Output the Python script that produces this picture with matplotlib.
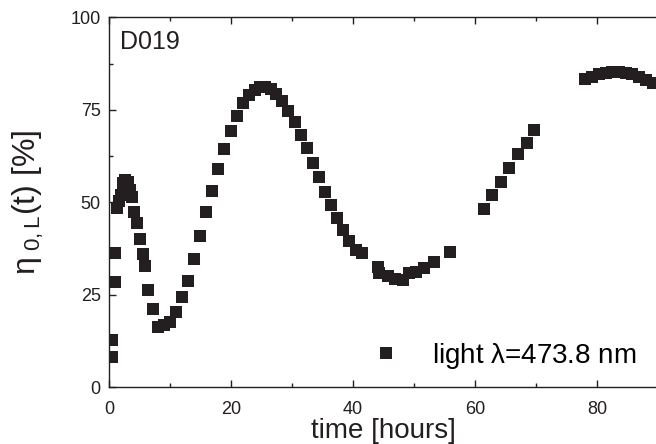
#!/usr/bin/env python

import matplotlib
matplotlib.use('Agg')
import matplotlib.pyplot as plt
from matplotlib.ticker import MultipleLocator

## data
time = [0.5, 0.5, 0.9, 1.0, 1.3, 1.6, 1.9, 2.3, 2.7, 3.1, 3.5, 3.8, 4.15, 4.6,
        5.0, 5.5, 5.95, 6.45, 7.25, 8.1, 9.05, 10.0, 11.0, 12.0, 12.95, 14.0,
        14.95, 15.95, 16.95, 17.9, 18.9, 19.95, 20.95, 21.9, 23.0, 23.9, 24.75,
        25.6, 26.5, 27.4, 28.3, 29.4, 30.45, 31.45, 32.4, 33.5, 34.45, 35.4,
        36.4, 37.45, 38.4, 39.4, 40.45, 41.45, 44.1, 44.3, 45.8, 46.9, 48.2,
        49.1, 50.3, 51.6, 53.2, 55.9, 61.5, 62.8, 64.2, 65.6, 67.0, 68.5, 69.6,
        78.0, 79.2, 80.3, 81.4, 82.5, 83.6, 84.7, 85.8, 86.9, 88.0, 89.1]
eta = [8.2, 12.7, 28.6, 36.3, 48.5, 50.5, 52.0, 55.3, 56.0, 55.5, 53.5, 51.5,
       47.5, 44.4, 40.0, 36.1, 32.9, 26.4, 21.1, 16.3, 16.9, 17.6, 20.3, 24.4,
       28.8, 34.7, 41.0, 47.3, 53.2, 59.0, 64.4, 69.4, 73.4, 76.8, 79.1, 80.4,
       81.2, 81.3, 80.6, 79.4, 77.3, 74.8, 71.7, 68.3, 64.7, 60.8, 56.8, 52.9,
       49.4, 45.9, 42.6, 39.6, 37.2, 36.3, 32.5, 30.9, 30.0, 29.2, 29.0, 31.0,
       31.3, 32.2, 34.0, 36.5, 48.2, 51.9, 55.6, 59.4, 63.1, 66.2, 69.6, 83.3,
       84.0, 84.6, 85.0, 85.3, 85.3, 85.0, 84.6, 84.0, 83.2, 82.2]
sample = "D019"
series_label = r"light $\mathregular{\lambda}$=473.8 nm"

plt.rcParams['font.family'] = ['Liberation Sans', 'DejaVu Sans']
plt.rcParams['mathtext.fontset'] = 'custom'
plt.rcParams['mathtext.rm'] = 'Liberation Sans'
plt.rcParams['mathtext.it'] = 'Liberation Sans:italic'

ink = '#231f20'

fig = plt.figure(figsize=(6.56, 4.44), dpi=100)
ax = fig.add_axes([0.1662, 0.1273, 0.8369, 0.8333])

ax.plot(time, eta, 's', color=ink, markersize=8, markeredgewidth=0,
        label=series_label)

ax.set_xlim([0, 90])
ax.set_ylim([0, 100])
ax.xaxis.set_major_locator(MultipleLocator(20))
ax.xaxis.set_minor_locator(MultipleLocator(10))
ax.yaxis.set_major_locator(MultipleLocator(25))
ax.yaxis.set_minor_locator(MultipleLocator(12.5))
ax.tick_params(which='both', direction='in', top=True, right=False,
               color=ink, width=1.0)
ax.tick_params(which='major', length=5, labelsize=13, labelcolor=ink)
ax.tick_params(which='minor', length=3)
ax.tick_params(axis='x', which='major', pad=10)
ax.tick_params(axis='y', which='major', pad=6)
for s in ax.spines.values():
    s.set_linewidth(1.0)
    s.set_color(ink)

ax.set_xlabel("time [hours]", fontsize=20, color=ink, labelpad=0)
ax.set_ylabel(r"$\mathregular{\eta_{\ 0,L}(t)}$ [%]", fontsize=23, color=ink)
ax.yaxis.set_label_coords(-0.115, 0.5)

ax.text(0.02, 0.965, sample, transform=ax.transAxes, fontsize=18,
        color=ink, va='top', ha='left')

ax.legend(loc='lower right', bbox_to_anchor=(0.97, 0.165),
          bbox_transform=fig.transFigure, frameon=False, fontsize=20,
          handlelength=1.0, handletextpad=1.15, borderpad=0,
          borderaxespad=0, markerscale=1.0)

fig.savefig('out.png', dpi=100)
